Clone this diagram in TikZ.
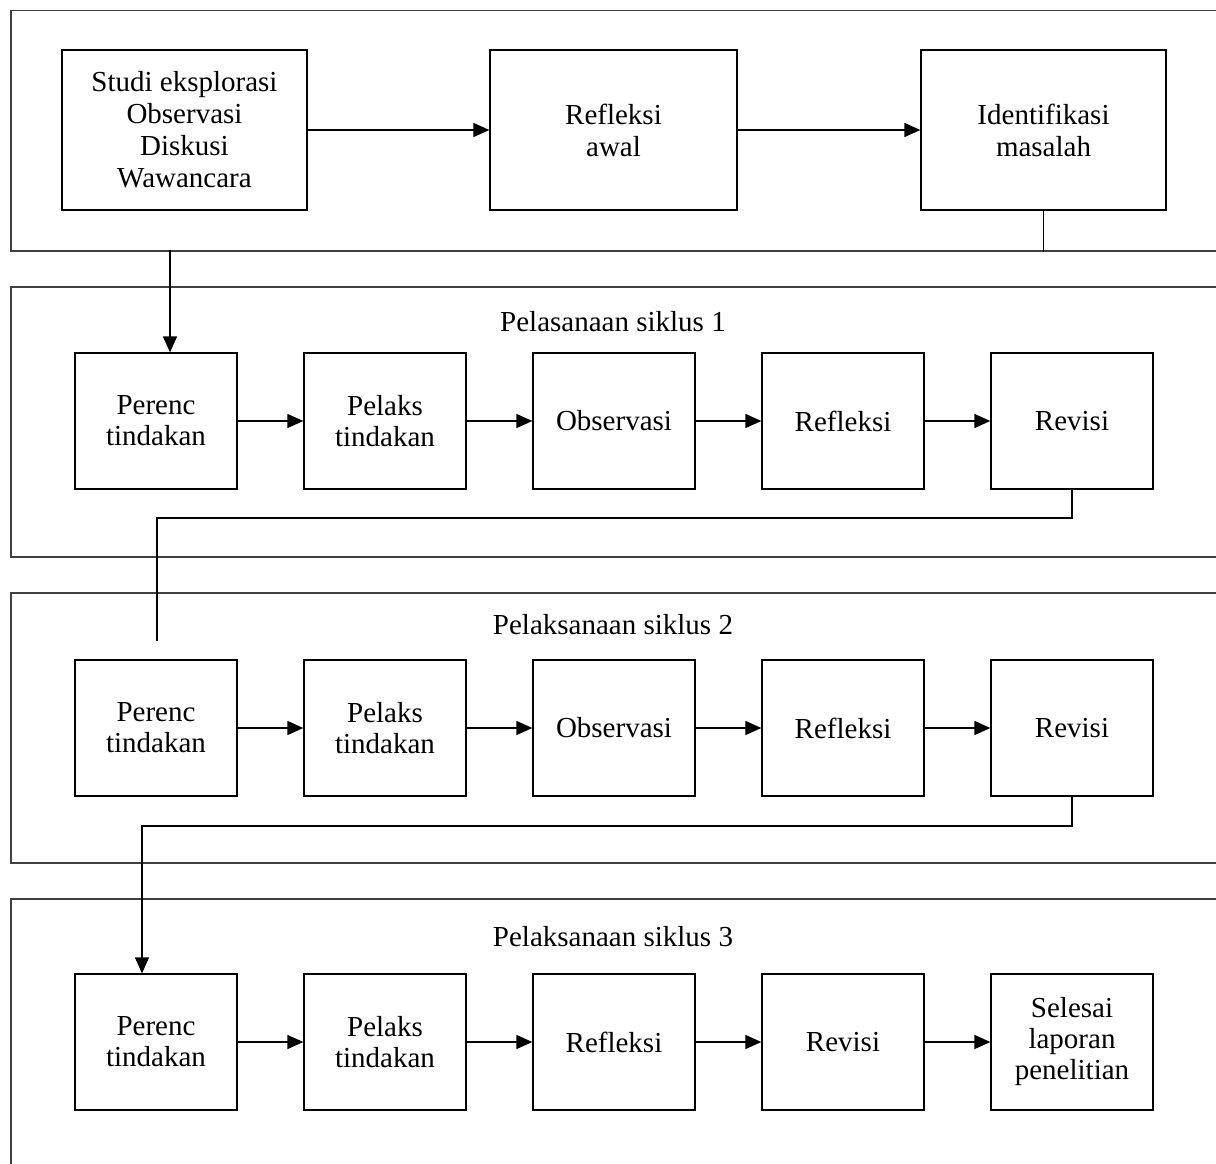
\documentclass[tikz,border=0pt]{standalone}
\usepackage{fontspec}
\setmainfont{Liberation Serif}
\usetikzlibrary{arrows.meta}
\begin{document}
\begin{tikzpicture}[x=1pt,y=-1pt,
  frame/.style={draw=black!75,line width=1.5pt,anchor=north west,inner sep=0pt},
  topbox/.style={draw,line width=1.3pt,minimum width=245pt,minimum height=160pt,align=center,inner sep=0pt,font=\fontsize{29}{32}\selectfont},
  stepbox/.style={draw,line width=1.3pt,minimum width=162pt,minimum height=136pt,align=center,inner sep=0pt,font=\fontsize{29}{31}\selectfont},
  lbl/.style={font=\fontsize{29}{32}\selectfont,inner sep=0pt},
  conn/.style={line width=1.3pt},
  arr/.style={line width=1.3pt,-{Triangle[length=16pt,width=14pt]}}]
\useasboundingbox (0,0) rectangle (1216,1164);
\clip (0,0) rectangle (1216,1164);
% frames
\node[frame,minimum width=1230pt,minimum height=240pt] (f1) at (10,10) {};
\node[frame,minimum width=1230pt,minimum height=270pt] (f2) at (10,286) {};
\node[frame,minimum width=1230pt,minimum height=270pt] (f3) at (10,592) {};
\node[frame,minimum width=1230pt,minimum height=300pt] (f4) at (10,898) {};
% top row
\node[topbox] (a) at (184.5,130) {Studi eksplorasi\\Observasi\\Diskusi\\Wawancara};
\node[topbox,minimum width=247pt] (b) at (613.5,130) {Refleksi\\awal};
\node[topbox] (c) at (1043.5,130) {Identifikasi\\masalah};
\draw[arr] (a) -- (b);
\draw[arr] (b) -- (c);
\draw[conn] (c.south) -- (c.south |- f1.south);
% labels
\node[lbl] (l1) at (613,322) {Pelasanaan siklus 1};
\node[lbl] (l2) at (613,625) {Pelaksanaan siklus 2};
\node[lbl] (l3) at (613,937) {Pelaksanaan siklus 3};
% row 1
\node[stepbox] (p1) at (156,421) {Perenc\\tindakan};
\node[stepbox] (q1) at (385,421) {Pelaks\\tindakan};
\node[stepbox] (o1) at (614,421) {Observasi};
\node[stepbox] (f1b) at (843,421) {Refleksi};
\node[stepbox] (r1) at (1072,421) {Revisi};
% row 2
\node[stepbox] (p2) at (156,728) {Perenc\\tindakan};
\node[stepbox] (q2) at (385,728) {Pelaks\\tindakan};
\node[stepbox] (o2) at (614,728) {Observasi};
\node[stepbox] (f2b) at (843,728) {Refleksi};
\node[stepbox] (r2) at (1072,728) {Revisi};
% row 3
\node[stepbox] (p3) at (156,1042) {Perenc\\tindakan};
\node[stepbox] (q3) at (385,1042) {Pelaks\\tindakan};
\node[stepbox] (f3b) at (614,1042) {Refleksi};
\node[stepbox] (r3) at (843,1042) {Revisi};
\node[stepbox] (s3) at (1072,1042) {Selesai\\laporan\\penelitian};
% arrows in rows
\foreach \u/\v in {p1/q1,q1/o1,o1/f1b,f1b/r1,p2/q2,q2/o2,o2/f2b,f2b/r2,p3/q3,q3/f3b,f3b/r3,r3/s3}
  \draw[arr] (\u) -- (\v);
% connectors between frames
\coordinate (s0) at (170,250);
\draw[arr] (s0) -- (s0 |- p1.north);
\coordinate (j1) at (157,518);
\coordinate (e1) at (157,641);
\draw[conn] (r1.south) |- (j1) -- (e1);
\coordinate (j2) at (142,826);
\draw[arr] (r2.south) |- (j2) -- (j2 |- p3.north);
\end{tikzpicture}
\end{document}
